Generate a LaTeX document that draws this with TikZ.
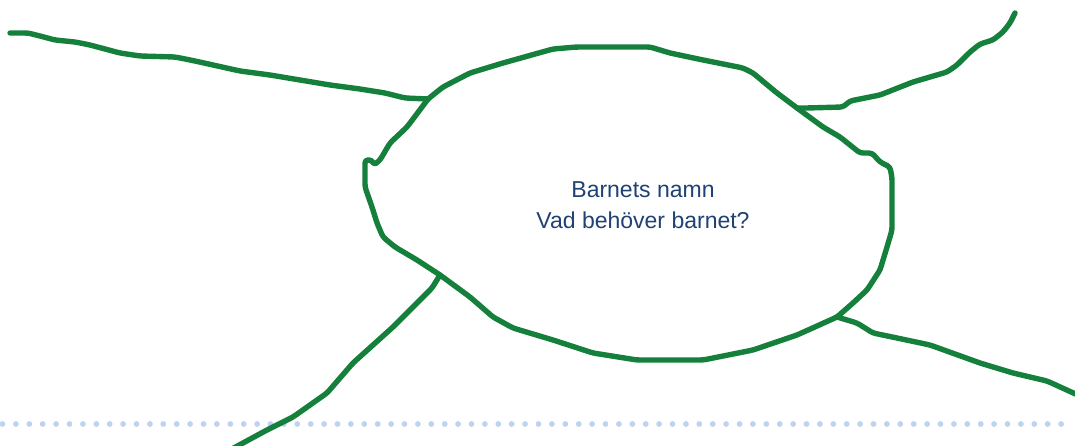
\documentclass[tikz,border=0pt]{standalone}
\usepackage{fontspec}
\setmainfont{Liberation Sans}
\definecolor{stroke}{RGB}{20,128,60}
\definecolor{dotblue}{RGB}{189,211,238}
\definecolor{txtblue}{RGB}{31,65,115}
\tikzset{
  hand/.style={draw=stroke, line width=5.4pt, line join=round, line cap=round, rounded corners=3pt},
  label/.style={text=txtblue, font=\fontsize{23}{30}\selectfont, anchor=base, inner sep=0pt}
}
\begin{document}
\begin{tikzpicture}[x=1pt,y=-1pt]
\useasboundingbox (0,0) rectangle (1075,446);
% dotted guide line
\foreach \k in {0,...,79} {
  \fill[dotblue] ({2.5+13.4*\k},424) circle (2.9);
}
% central blob
\draw[hand] (428,99) -- (443,87) -- (470,73) -- (503,63) -- (553,49) -- (577,47) -- (650,47) -- (670,53) -- (703,60) -- (743,68) -- (753,73) -- (777,93) -- (797,108) -- (823,127) -- (840,137) -- (860,153) -- (872,153) -- (880,162) -- (890,167) -- (892,178) -- (892,230) -- (887,247) -- (880,270) -- (867,290) -- (853,303) -- (837,317) -- (797,335) -- (753,350) -- (703,360) -- (637,360) -- (593,353) -- (553,340) -- (513,328) -- (493,317) -- (470,297) -- (440,275) -- (417,260) -- (395,247) -- (383,237) -- (377,223) -- (372,207) -- (365,187) -- (365,160) -- (372,160) -- (374,165) -- (380,160) -- (390,143) -- (407,127) -- cycle;
% branches
\draw[hand] (10,33) -- (28,33) -- (40,36) -- (55,40) -- (75,42) -- (90,45) -- (120,53) -- (140,56) -- (175,57) -- (195,61) -- (240,71) -- (270,75) -- (300,80) -- (330,85) -- (360,89) -- (385,93) -- (405,98) -- (428,99);
\draw[hand] (797,108) -- (807,108) -- (843,107) -- (850,101) -- (880,95) -- (913,82) -- (947,72) -- (957,65) -- (970,52) -- (980,44) -- (993,40) -- (1003,32) -- (1010,23) -- (1015,13);
\draw[hand] (440,275) -- (432,288) -- (420,300) -- (393,327) -- (353,363) -- (327,393) -- (293,417) -- (267,430) -- (230,450);
\draw[hand] (837,317) -- (857,323) -- (873,333) -- (897,338) -- (930,345) -- (980,363) -- (1013,373) -- (1047,381) -- (1080,396);
% text
\node[label] (name) at (643,198) {Barnets namn};
\node[label] (need) at (643,229) {Vad behöver barnet?};
\end{tikzpicture}
\end{document}
